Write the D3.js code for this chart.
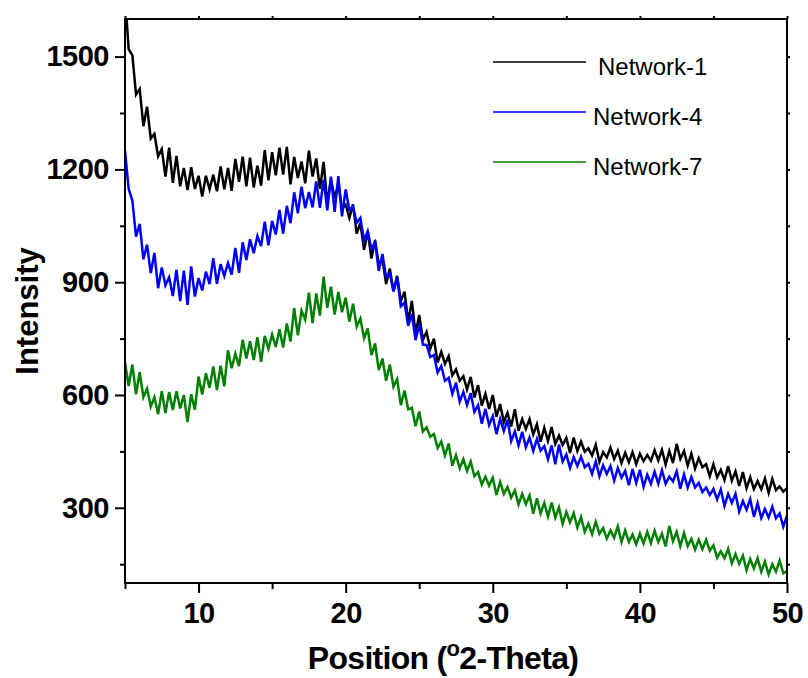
<!DOCTYPE html>
<html><head><meta charset="utf-8">
<script src="https://cdn.jsdelivr.net/npm/d3@7"></script>
<style>body{margin:0;background:#fff}</style>
</head><body>
<svg id="chart" width="808" height="678"></svg>
<script>
// 2-theta grid of the scan (degrees)
const positionStart = 5;
const positionStep = 0.25;

const network1 = [
  1663, 1519, 1504, 1399, 1414, 1315, 1367, 1282, 1294, 1235,
  1254, 1181, 1258, 1164, 1236, 1155, 1204, 1145, 1206, 1148,
  1183, 1128, 1183, 1147, 1186, 1142, 1208, 1147, 1204, 1143,
  1228, 1167, 1234, 1155, 1231, 1152, 1210, 1157, 1251, 1171,
  1246, 1184, 1258, 1186, 1260, 1160, 1233, 1177, 1221, 1163,
  1250, 1181, 1229, 1148, 1220, 1110, 1173, 1124, 1161, 1097,
  1106, 1071, 1107, 1029, 1058, 986, 1035, 963, 1012, 947,
  961, 895, 936, 877, 917, 850, 875, 795, 850, 763,
  813, 747, 768, 723, 750, 686, 715, 683, 703, 652,
  668, 638, 650, 615, 648, 593, 626, 572, 603, 563,
  600, 542, 576, 528, 553, 516, 562, 505, 536, 510,
  536, 495, 522, 476, 513, 478, 515, 470, 492, 467,
  486, 446, 487, 451, 476, 449, 458, 439, 468, 422,
  448, 434, 460, 430, 452, 419, 446, 421, 448, 416,
  444, 424, 440, 425, 453, 426, 454, 415, 451, 419,
  470, 430, 451, 412, 444, 404, 432, 408, 416, 384,
  416, 381, 401, 374, 411, 372, 397, 358, 395, 352,
  381, 350, 371, 349, 378, 340, 377, 347, 357, 343,
  352
];
const network4 = [
  1250, 1148, 1117, 1021, 1055, 961, 1000, 924, 978, 884,
  939, 892, 913, 863, 933, 850, 931, 840, 942, 862,
  911, 878, 928, 895, 964, 896, 948, 917, 951, 920,
  991, 925, 1006, 959, 1014, 977, 1023, 996, 1061, 998,
  1063, 1027, 1092, 1029, 1103, 1057, 1139, 1083, 1154, 1097,
  1140, 1099, 1168, 1098, 1173, 1091, 1181, 1087, 1182, 1075,
  1147, 1092, 1101, 1058, 1071, 1011, 1036, 989, 1006, 930,
  975, 913, 923, 875, 912, 836, 846, 784, 815, 746,
  788, 734, 733, 701, 706, 660, 677, 638, 646, 603,
  633, 582, 608, 573, 605, 555, 573, 524, 563, 520,
  544, 496, 536, 504, 534, 477, 503, 466, 502, 461,
  487, 451, 483, 452, 464, 429, 466, 416, 468, 423,
  442, 406, 435, 411, 436, 408, 417, 390, 423, 384,
  413, 390, 411, 372, 406, 380, 398, 360, 403, 366,
  401, 356, 388, 364, 396, 364, 400, 364, 383, 370,
  397, 351, 389, 354, 382, 354, 366, 342, 354, 334,
  350, 322, 349, 305, 337, 313, 337, 290, 318, 295,
  323, 276, 312, 273, 297, 274, 303, 272, 285, 250,
  280
];
const network7 = [
  687, 624, 681, 602, 661, 594, 617, 569, 594, 549,
  610, 552, 608, 560, 610, 564, 600, 528, 602, 561,
  649, 601, 658, 619, 676, 613, 678, 623, 719, 671,
  710, 677, 747, 697, 743, 693, 754, 688, 757, 723,
  761, 728, 775, 726, 790, 742, 831, 759, 824, 800,
  872, 791, 870, 811, 915, 832, 888, 814, 874, 820,
  859, 795, 843, 782, 803, 751, 777, 706, 737, 666,
  697, 638, 681, 622, 642, 573, 612, 562, 566, 517,
  556, 503, 514, 489, 496, 459, 476, 439, 471, 412,
  440, 405, 429, 398, 423, 384, 395, 362, 383, 359,
  380, 334, 369, 337, 355, 327, 346, 309, 337, 310,
  333, 284, 325, 285, 313, 277, 314, 274, 301, 257,
  289, 261, 286, 247, 275, 236, 258, 230, 263, 231,
  246, 218, 240, 220, 251, 209, 240, 209, 229, 203,
  231, 205, 236, 206, 239, 209, 231, 197, 252, 211,
  236, 198, 233, 198, 217, 189, 215, 190, 215, 186,
  200, 167, 184, 166, 191, 152, 177, 151, 173, 134,
  164, 139, 166, 130, 157, 123, 150, 130, 160, 126,
  132
];

const seriesNames = ["Network-1", "Network-4", "Network-7"];
const seriesValues = [network1, network4, network7];
const seriesColors = ["#000000", "#0000ff", "#008000"];

const xTicks = [10, 20, 30, 40, 50];
const xMinorTicks = [5, 15, 25, 35, 45];
const yTicks = [300, 600, 900, 1200, 1500];
const yMinorTicks = [150, 450, 750, 1050, 1350];
const xTitle = "Position (";
const xTitleSup = "o";
const xTitleRest = "2-Theta)";
const yTitle = "Intensity";

const FONT = "'Liberation Sans', Arial, Helvetica, sans-serif";
const svg = d3.select("#chart");
const L = 125, R = 787, T = 19, B = 583;
const x = d3.scaleLinear().domain([5, 50]).range([L, R]);
const y = d3.scaleLinear().domain([100, 1600]).range([B, T]);

svg.append("defs").append("clipPath").attr("id", "plotclip")
  .append("rect").attr("x", L).attr("y", T).attr("width", R - L).attr("height", B - T);

// data lines
const line = d3.line()
  .x((d, i) => x(positionStart + i * positionStep))
  .y(d => y(d));
const plot = svg.append("g").attr("clip-path", "url(#plotclip)");
seriesValues.forEach((vals, k) => {
  plot.append("path").datum(vals)
    .attr("fill", "none")
    .attr("stroke", seriesColors[k])
    .attr("stroke-width", 2.5)
    .attr("stroke-linejoin", "miter")
    .attr("d", line);
});

function styleAxis(g) {
  g.select(".domain").remove();
  g.selectAll("line").attr("stroke", "#000").attr("stroke-width", 2);
  g.selectAll("text").attr("font-family", FONT).attr("font-size", 29)
    .attr("font-weight", "bold").attr("fill", "#000").attr("letter-spacing", "-0.5px");
}
// bottom
svg.append("g").attr("transform", `translate(0,${B})`)
  .call(d3.axisBottom(x).tickValues(xTicks).tickSize(10).tickPadding(9).tickFormat(d3.format("d")))
  .call(styleAxis);
svg.append("g").attr("transform", `translate(0,${B})`)
  .call(d3.axisBottom(x).tickValues(xMinorTicks).tickSize(6).tickFormat(""))
  .call(styleAxis);
// left
svg.append("g").attr("transform", `translate(${L},0)`)
  .call(d3.axisLeft(y).tickValues(yTicks).tickSize(10).tickPadding(6).tickFormat(d3.format("d")))
  .call(styleAxis);
svg.append("g").attr("transform", `translate(${L},0)`)
  .call(d3.axisLeft(y).tickValues(yMinorTicks).tickSize(5).tickFormat(""))
  .call(styleAxis);
// top & right small outward ticks
svg.append("g").attr("transform", `translate(0,${T})`)
  .call(d3.axisTop(x).tickValues(xTicks.concat(xMinorTicks)).tickSize(3).tickFormat(""))
  .call(styleAxis);
svg.append("g").attr("transform", `translate(${R},0)`)
  .call(d3.axisRight(y).tickValues(yTicks.concat(yMinorTicks)).tickSize(3).tickFormat(""))
  .call(styleAxis);

// frame
svg.append("rect").attr("x", L).attr("y", T).attr("width", R - L).attr("height", B - T)
  .attr("fill", "none").attr("stroke", "#000").attr("stroke-width", 2);

// axis titles
const xt = svg.append("text").attr("x", 443).attr("y", 669)
  .attr("text-anchor", "middle").attr("font-family", FONT).attr("font-size", 32)
  .attr("font-weight", "bold").attr("letter-spacing", "-0.7px").attr("fill", "#000");
xt.append("tspan").text(xTitle);
xt.append("tspan").attr("font-size", 22).attr("dy", -13).text(xTitleSup);
xt.append("tspan").attr("dy", 13).text(xTitleRest);

svg.append("text").attr("transform", "translate(38,311) rotate(-90)")
  .attr("text-anchor", "middle").attr("font-family", FONT).attr("font-size", 31)
  .attr("font-weight", "bold").attr("fill", "#000").text(yTitle);

// legend
const legendY = [62, 112, 162];
const legendTextX = [598, 593, 593];
seriesNames.forEach((name, k) => {
  svg.append("line").attr("x1", 493).attr("x2", 586)
    .attr("y1", legendY[k]).attr("y2", legendY[k])
    .attr("stroke", seriesColors[k]).attr("stroke-width", 1.6);
  svg.append("text").attr("x", legendTextX[k]).attr("y", legendY[k] + 13)
    .attr("font-family", FONT).attr("font-size", 24).attr("fill", "#000").text(name);
});
</script>
</body></html>
